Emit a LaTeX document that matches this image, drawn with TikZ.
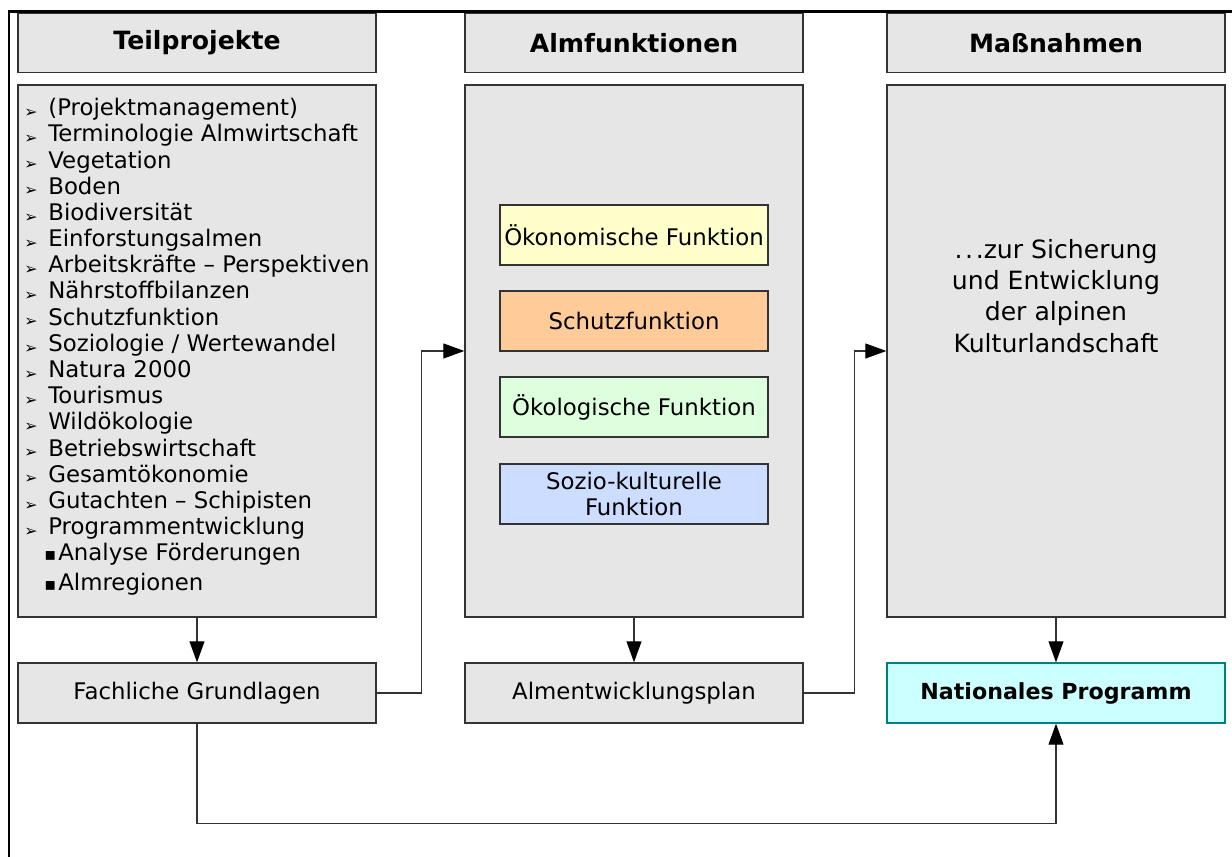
\documentclass[tikz,border=0pt]{standalone}
\usepackage{fontspec}
\setmainfont{DejaVu Sans}
\usetikzlibrary{arrows.meta,positioning}
\definecolor{boxgray}{HTML}{E6E6E6}
\definecolor{boxline}{HTML}{333333}
\definecolor{oekonom}{HTML}{FFFFCC}
\definecolor{schutz}{HTML}{FFCC99}
\definecolor{oekolog}{HTML}{DDFFDD}
\definecolor{sozio}{HTML}{CCDDFF}
\definecolor{natfill}{HTML}{CCFFFF}
\definecolor{natline}{HTML}{008080}
\tikzset{>={Triangle[length=0.42cm,width=0.3cm,color=black]}}
\tikzset{
  box/.style={draw=boxline, fill=boxgray, line width=0.8pt, inner sep=0pt,
    minimum width=#1, font=\fontsize{13}{14.5}\selectfont},
  box/.default=6.76cm,
  headbox/.style={box=#1, minimum height=1.2cm, font=\bfseries\fontsize{14.3}{16}\selectfont},
  headbox/.default=6.76cm,
  smallbox/.style={box, minimum height=1.2cm},
  funcbox/.style={box=5.36cm, minimum height=1.2cm, fill=#1, align=center},
  conn/.style={->, line width=0.6pt, draw=black!80}
}
\newcommand{\arrbullet}{\makebox[0.48cm][l]{\raisebox{-1pt}{\fontsize{9}{9}\selectfont ➢}}}
\newcommand{\sqbullet}{\hspace*{0.4cm}\makebox[0.28cm][l]{\fontsize{10}{10}\selectfont ▪}}

\begin{document}
\begin{tikzpicture}[x=0.02cm, y=-0.02cm]
  \useasboundingbox (0,0) rectangle (1232,857);
  % outer frame
  \draw [line width=1.7pt] (9,857) -- (9,12) -- (1232,12);

  % headers
  \node [headbox=7.16cm, minimum height=1.18cm] (headteil) at (197,43) {Teilprojekte};
  \node [headbox, minimum height=1.18cm] (headalm) at (634,43) {Almfunktionen};
  \node [headbox, minimum height=1.18cm] (headmass) at (1056,43) {Maßnahmen};

  % big boxes
  \node [box=7.16cm, minimum height=10.64cm] (teil) at (197,351) {};
  \node [box, minimum height=10.64cm] (alm) at (634,351) {};
  \node [box, minimum height=10.64cm] (mass) at (1056,351) {};

  \node [anchor=north west, align=left, font=\fontsize{13}{14.9}\selectfont, inner sep=0pt]
    (teiltext) at (24,98) {%
    \arrbullet(Projektmanagement)\\
    \arrbullet Terminologie Almwirtschaft\\
    \arrbullet Vegetation\\
    \arrbullet Boden\\
    \arrbullet Biodiversität\\
    \arrbullet Einforstungsalmen\\
    \arrbullet Arbeitskräfte – Perspektiven\\
    \arrbullet Nährstoffbilanzen\\
    \arrbullet Schutzfunktion\\
    \arrbullet Soziologie / Wertewandel\\
    \arrbullet Natura 2000\\
    \arrbullet Tourismus\\
    \arrbullet Wildökologie\\
    \arrbullet Betriebswirtschaft\\
    \arrbullet Gesamtökonomie\\
    \arrbullet Gutachten – Schipisten\\
    \arrbullet Programmentwicklung\\
    \sqbullet Analyse Förderungen\\[2pt]
    \sqbullet Almregionen};

  % functions
  \node [funcbox=oekonom] (fokonom) at (634,235) {Ökonomische Funktion};
  \node [funcbox=schutz] (fschutz) at (634,321) {Schutzfunktion};
  \node [funcbox=oekolog] (fokolog) at (634,407) {Ökologische Funktion};
  \node [funcbox=sozio] (fsozio) at (634,494) {Sozio-kulturelle\\Funktion};

  \node [align=center, font=\fontsize{14.3}{17.8}\selectfont] (masstext) at (1056,296)
    {.\hspace{1.5pt}.\hspace{1.5pt}.zur Sicherung\\und Entwicklung\\der alpinen\\Kulturlandschaft};

  % bottom row
  \node [box=7.16cm, minimum height=1.2cm] (fach) at (197,693) {Fachliche Grundlagen};
  \node [smallbox] (plan) at (634,693) {Almentwicklungsplan};
  \node [smallbox, fill=natfill, draw=natline, font=\bfseries\fontsize{12.6}{14}\selectfont] (natprog) at (1056,693) {Nationales Programm};

  % connectors
  \draw [conn] (teil.south) -- (fach.north);
  \draw [conn] (alm.south) -- (plan.north);
  \draw [conn] (mass.south) -- (natprog.north);
  \draw [conn] (fach.east) -- ++(45,0) |- (alm.west);
  \draw [conn] (plan.east) -- ++(51,0) |- (mass.west);
  \draw [conn] (fach.south) -- ++(0,100) -| (natprog.south);
\end{tikzpicture}
\end{document}
